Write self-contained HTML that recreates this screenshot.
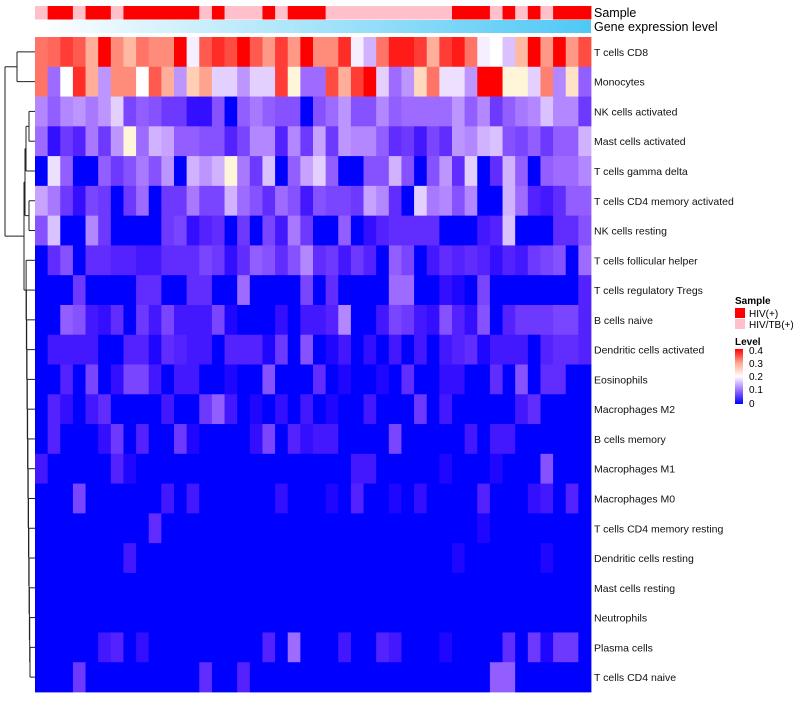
<!DOCTYPE html>
<html><head><meta charset="utf-8"><style>
body{margin:0;background:#fff;width:800px;height:700px;overflow:hidden;font-family:"Liberation Sans",sans-serif}
</style></head><body>
<svg id="chart" width="800" height="700" xmlns="http://www.w3.org/2000/svg" font-family="Liberation Sans, sans-serif">
<g id="dendro" stroke="#222" stroke-width="1" fill="none"></g>
<g id="ann"></g>
<g id="cells"></g>
<g id="labels" font-size="10.5" fill="#111"></g>
<g>
<text x="735" y="304" font-size="10" font-weight="bold">Sample</text>
<rect x="735" y="308" width="10" height="10" fill="#ff0000"/>
<text x="749" y="317" font-size="10">HIV(+)</text>
<rect x="735" y="319" width="10" height="10" fill="#ffc0cb"/>
<text x="749" y="328" font-size="10">HIV/TB(+)</text>
<text x="735" y="345" font-size="10" font-weight="bold">Level</text>
<defs><linearGradient id="lg" x1="0" y1="1" x2="0" y2="0"><stop offset="0" stop-color="#0000ff"/><stop offset="0.25" stop-color="#9d6fff"/><stop offset="0.5" stop-color="#ffffff"/><stop offset="0.75" stop-color="#ffa590"/><stop offset="1" stop-color="#ff0000"/></linearGradient>
<linearGradient id="gg" x1="0" x2="1"><stop offset="0" stop-color="#ffffff"/><stop offset="1" stop-color="#4fc8f5"/></linearGradient></defs>
<rect x="735" y="349" width="8" height="55" fill="url(#lg)"/>
<g font-size="10">
<text x="749" y="354">0.4</text><text x="749" y="367">0.3</text><text x="749" y="380">0.2</text><text x="749" y="393">0.1</text><text x="749" y="407">0</text>
</g>
</g>
</svg>
<script>
const rowNames=["T cells CD8","Monocytes","NK cells activated","Mast cells activated","T cells gamma delta","T cells CD4 memory activated","NK cells resting","T cells follicular helper","T cells regulatory  Tregs","B cells naive","Dendritic cells activated","Eosinophils","Macrophages M2","B cells memory","Macrophages M1","Macrophages M0","T cells CD4 memory resting","Dendritic cells resting","Mast cells resting","Neutrophils","Plasma cells","T cells CD4 naive"];
const sampleGroup="PHHPHHPHHHHHHPHPPPHPHHHPPPPPPPPPPHHHPHPHPHHH".split("");
function sparse(m){const a=new Array(44).fill(0);for(const k in m)a[k]=m[k];return a;}
const row0=[.33,.34,.37,.35,.28,.4,.31,.27,.33,.31,.31,.4,.19,.35,.38,.36,.4,.35,.3,.37,.3,.4,.31,.31,.38,.19,.15,.33,.39,.39,.37,.28,.37,.39,.33,.19,.2,.16,.27,.4,.3,.4,.3,.36];
const row1=[.33,.1,.2,.38,.28,.13,.31,.31,.2,.35,.28,.13,.25,.29,.17,.17,.13,.17,.17,.37,.21,.1,.1,.36,.28,.37,.4,.17,.1,.13,.24,.33,.18,.18,.13,.4,.4,.21,.21,.17,.32,.12,.23,.09];
const row2=[.12,.09,.12,.13,.11,.13,.17,.07,.09,.08,.06,.06,.02,.02,.08,0,.09,.11,.09,.08,.08,0,.08,.1,.13,.08,.08,.12,.09,.1,.1,.1,.1,.13,.09,.12,.06,.09,.11,.12,.16,.12,.12,.06];
const row3=[.1,.02,.06,.04,.11,.06,.13,.21,.1,.15,.14,.09,.09,.08,.08,.04,.07,.12,.12,.04,.12,.06,.14,.06,.13,.12,.12,.09,.05,.06,.03,.07,.05,.13,.12,.15,.16,.08,.07,.09,.06,.09,.09,.15];
const row4=[0,.18,.09,0,0,.09,.06,.08,.11,.08,.13,0,.15,.13,.15,.21,.11,.06,.16,0,.09,.14,.17,.09,0,0,.08,.08,.15,.08,0,.08,.13,.05,.17,0,.05,.15,.09,0,.09,.1,.1,.12];
const row5=[.14,.11,.06,.02,.07,.06,0,.06,.1,0,.06,.06,.11,.07,.07,.15,.1,.08,.05,.1,.08,.03,.08,.07,.07,.06,.14,.12,.05,0,.17,.11,.12,.08,.12,0,0,.15,.1,.04,.03,.05,.09,.09];
const row6=[.08,.16,0,0,.12,.06,0,0,0,0,.06,.07,.02,.04,.05,0,.06,0,.07,.03,.11,.06,0,0,.09,0,.02,.04,.05,.05,.05,.05,0,0,0,.03,.04,.16,0,0,0,.05,.05,.08];
const row7=[0,.05,.08,0,.05,.05,.04,.04,.03,.03,.05,.05,.05,.07,.06,.02,.05,.09,.08,.05,.08,.12,.05,.06,.03,.06,.04,0,.09,.07,0,.03,.05,.04,.05,.04,.02,.04,.03,.06,.07,.08,0,.1];
const row8=sparse({3:.06,8:.05,9:.05,12:.05,13:.05,16:.1,21:.07,23:.05,28:.1,29:.1,32:.02,33:.01,35:.07,43:.04});
const row9=[0,0,.09,.08,.03,.02,.05,0,.06,.03,.07,.03,.03,.03,.07,.01,0,0,0,.02,0,.03,.03,.04,.12,0,0,.03,.07,.06,.03,.02,.08,.04,.02,.08,0,.04,.06,.06,.06,.07,.07,.04];
const row10=[0,.03,.03,.03,.03,0,0,.04,.04,.01,.05,.04,.03,.03,0,.04,.04,.04,.01,.06,0,.08,0,.01,.03,0,.02,0,.03,0,.03,0,.03,.04,.05,.01,.03,.03,.03,0,.04,.05,.05,.04];
const row11=[0,0,.04,0,.07,0,.02,.07,.07,.03,0,.03,.03,0,0,.01,0,0,.08,0,0,0,.05,0,.01,0,0,.01,0,.05,0,0,.02,.02,0,0,.05,0,.08,0,.05,.05,0,0];
const row12=sparse({1:.04,2:.02,4:.03,5:.05,10:.03,13:.06,14:.09,15:.03,17:.01,19:.02,21:.03,23:.01,26:.03,30:.06,32:.03,38:.03,39:.05});
const row13=sparse({1:.04,5:.02,6:.06,8:.04,11:.06,12:.01,17:.02,18:.07,20:.04,21:.02,22:.03,23:.03,28:.07,34:.03,36:.03,37:.03});
const row14=sparse({0:.03,6:.04,7:.01,25:.03,26:.03,32:.01,36:.01,40:.08});
const row15=sparse({3:.07,10:.03,12:.03,19:.02,23:.01,25:.04,28:.01,30:.02,35:.04,39:.02,40:.03,42:.04});
const row16=sparse({9:.05,35:.01});
const row17=sparse({7:.03,33:.01,40:.01});
const row18=sparse({});
const row19=sparse({});
const row20=sparse({5:.03,6:.04,8:.02,18:.04,20:.1,24:.03,27:.04,28:.03,32:.01,37:.05,39:.06,40:.01,41:.06,42:.06});
const row21=sparse({3:.06,13:.05,16:.04,36:.09,37:.09});
const values=[row0,row1,row2,row3,row4,row5,row6,row7,row8,row9,row10,row11,row12,row13,row14,row15,row16,row17,row18,row19,row20,row21];

const NS="http://www.w3.org/2000/svg";
const X0=35,X1=591,Y0=37,Y1=692;
const nC=44,nR=rowNames.length;
const cw=(X1-X0)/nC,rh=(Y1-Y0)/nR;
const xPos=c=>X0+c*cw, yPos=r=>Y0+r*rh;
function color(v){v=Math.max(0,Math.min(.4,v));
 if(v<=.2){const t=v/.2;return `rgb(${Math.round(255*Math.pow(t,0.7))},${Math.round(255*Math.pow(t,1.25))},255)`;}
 const t=(v-.2)/.2;const g=Math.round(255*Math.pow(1-t,0.75));return `rgb(255,${g},${Math.round(g*0.88)})`;}
function mk(tag,attrs){const e=document.createElementNS(NS,tag);for(const k in attrs)e.setAttribute(k,attrs[k]);return e;}
const cells=document.getElementById('cells');
values.forEach((row,r)=>row.forEach((v,c)=>{
 const e=mk('rect',{x:xPos(c),y:yPos(r),width:cw+0.4,height:rh+0.4,fill:color(v)});
 
 
 cells.appendChild(e);}));
const ann=document.getElementById('ann');
sampleGroup.forEach((g,c)=>{
 const e=mk('rect',{x:xPos(c),y:6,width:cw+0.4,height:13.5,fill:g==='H'?'#ff0000':'#ffc0cb'});
 
 
 ann.appendChild(e);});
const ge=mk('rect',{x:X0,y:20,width:X1-X0,height:13,fill:'url(#gg)'});


ann.appendChild(ge);
const t1=mk('text',{x:594,y:17,'font-size':12.5});t1.textContent='Sample';


ann.appendChild(t1);
const t2=mk('text',{x:594,y:31,'font-size':12.5});t2.textContent='Gene expression level';


ann.appendChild(t2);
const labels=document.getElementById('labels');
rowNames.forEach((n,r)=>{
 const e=mk('text',{x:594,y:yPos(r)+rh/2+4});e.textContent=n;
 
 
 labels.appendChild(e);});
// dendrogram
const dg=document.getElementById('dendro');
const yc=r=>yPos(r)+rh/2;
function seg(x1,y1,x2,y2){dg.appendChild(mk('line',{x1,y1,x2,y2}));}
function node(xa,ya,xb,yb,xm){seg(xa,ya,xm,ya);seg(xb,yb,xm,yb);seg(xm,ya,xm,yb);return [xm,(ya+yb)/2];}
const topNode=node(X0,yc(0),X0,yc(1),17);
const na=node(X0,yc(2),X0,yc(3),29);
const nb=node(na[0],na[1],X0,yc(4),26);
const nc=node(X0,yc(5),X0,yc(6),29);
const nd=node(nb[0],nb[1],nc[0],nc[1],25);
let acc=[X0,yc(21)];
const xsLevels=[33,33,33,33,32,32,32,32,31,31,31,30,30,30,30,29,29,28,28,28];
for(let r=20;r>=7;r--){acc=node(X0,yc(r),acc[0],acc[1],Math.min(xsLevels[r-7],acc[0]-0.3));}
const lowNode=node(nd[0],nd[1],acc[0],acc[1],24);
node(topNode[0],topNode[1],lowNode[0],lowNode[1],5);
</script>
</body></html>
